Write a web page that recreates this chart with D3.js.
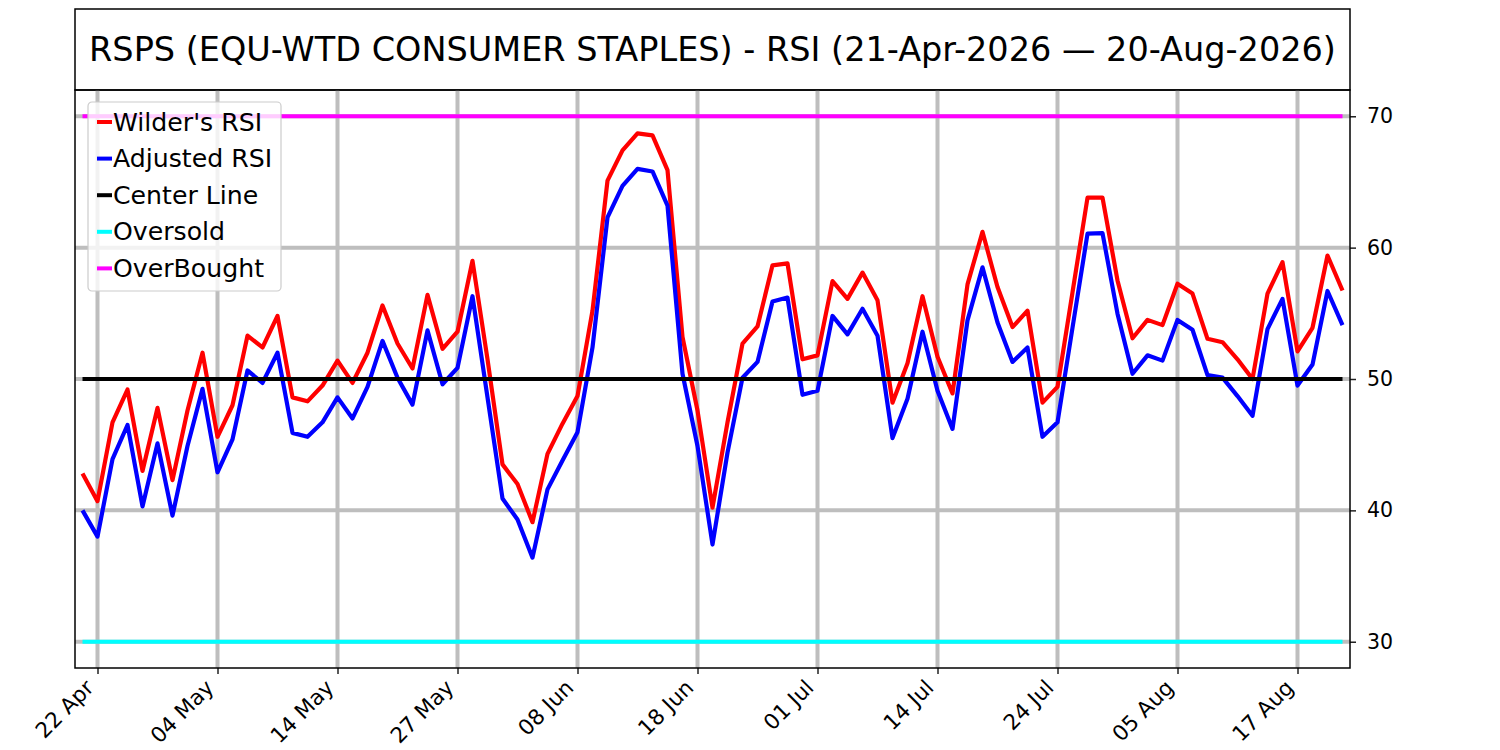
<!DOCTYPE html>
<html>
<head>
<meta charset="utf-8">
<script src="https://cdn.jsdelivr.net/npm/d3@7"></script>
<style>
  body { margin: 0; background: #fff; }
  svg { display: block; font-family: "DejaVu Sans", sans-serif; }
</style>
</head>
<body>
<div id="chart"></div>
<script>
// trading days shown on the x axis (plotted by index, not by calendar)
const dates = [
  "2026-04-21","2026-04-22","2026-04-23","2026-04-24","2026-04-27","2026-04-28","2026-04-29","2026-04-30",
  "2026-05-01","2026-05-04","2026-05-05","2026-05-06","2026-05-07","2026-05-08","2026-05-11","2026-05-12",
  "2026-05-13","2026-05-14","2026-05-15","2026-05-18","2026-05-19","2026-05-20","2026-05-21","2026-05-22",
  "2026-05-26","2026-05-27","2026-05-28","2026-05-29","2026-06-01","2026-06-02","2026-06-03","2026-06-04",
  "2026-06-05","2026-06-08","2026-06-09","2026-06-10","2026-06-11","2026-06-12","2026-06-15","2026-06-16",
  "2026-06-17","2026-06-18","2026-06-22","2026-06-23","2026-06-24","2026-06-25","2026-06-26","2026-06-29",
  "2026-06-30","2026-07-01","2026-07-02","2026-07-06","2026-07-07","2026-07-08","2026-07-09","2026-07-10",
  "2026-07-13","2026-07-14","2026-07-15","2026-07-16","2026-07-17","2026-07-20","2026-07-21","2026-07-22",
  "2026-07-23","2026-07-24","2026-07-27","2026-07-28","2026-07-29","2026-07-30","2026-07-31","2026-08-03",
  "2026-08-04","2026-08-05","2026-08-06","2026-08-07","2026-08-10","2026-08-11","2026-08-12","2026-08-13",
  "2026-08-14","2026-08-17","2026-08-18","2026-08-19","2026-08-20"
];

const wildersRSI = [
  42.8, 40.7, 46.7, 49.2, 43.0, 47.8, 42.3, 47.6, 52.0, 45.6,
  48.0, 53.3, 52.4, 54.8, 48.6, 48.3, 49.5, 51.4, 49.7, 52.0,
  55.6, 52.7, 50.8, 56.4, 52.3, 53.6, 59.0, 51.5, 43.5, 42.0,
  39.1, 44.3, 46.6, 48.7, 55.2, 65.1, 67.4, 68.7, 68.55, 65.9,
  53.2, 47.6, 40.2, 46.7, 52.7, 54.0, 58.65, 58.8, 51.5, 51.8,
  57.45, 56.1, 58.1, 56.0, 48.2, 51.2, 56.3, 51.7, 48.9, 57.2,
  61.2, 57.0, 53.95, 55.2, 48.2, 49.4, 56.6, 63.8, 63.8, 57.5,
  53.1, 54.5, 54.1, 57.25, 56.5, 53.06, 52.8, 51.5, 50.0, 56.5,
  58.9, 52.1, 53.9, 59.4, 56.74
];

const adjustedRSI = [
  40.0, 38.0, 43.9, 46.5, 40.3, 45.1, 39.6, 44.9, 49.25, 42.9,
  45.4, 50.65, 49.7, 52.0, 45.9, 45.6, 46.7, 48.6, 47.0, 49.4,
  52.9, 50.1, 48.05, 53.7, 49.6, 50.85, 56.3, 48.6, 40.9, 39.3,
  36.4, 41.6, 43.8, 45.95, 52.4, 62.3, 64.7, 66.0, 65.8, 63.2,
  50.4, 44.9, 37.4, 44.4, 50.1, 51.3, 55.9, 56.2, 48.8, 49.1,
  54.8, 53.4, 55.35, 53.3, 45.5, 48.5, 53.6, 49.1, 46.2, 54.46,
  58.5, 54.3, 51.3, 52.4, 45.6, 46.7, 53.9, 61.06, 61.1, 54.97,
  50.4, 51.8, 51.4, 54.5, 53.75, 50.3, 50.1, 48.7, 47.2, 53.8,
  56.1, 49.5, 51.1, 56.7, 54.1
];

const centerLevel = 50;
const oversoldLevel = 30;
const overboughtLevel = 70;

const yTicks = [30, 40, 50, 60, 70];
const tickStep = 8;     // one x label every 8 trading days
const tickStart = 1;

const title = "RSPS (EQU-WTD CONSUMER STAPLES) - RSI (21-Apr-2026 \u2014 20-Aug-2026)";

const series = [
  { name: "Wilder's RSI", color: "red" },
  { name: "Adjusted RSI", color: "blue" },
  { name: "Center Line", color: "black" },
  { name: "Oversold", color: "cyan" },
  { name: "OverBought", color: "magenta" }
];

const W = 1500, H = 750;
const m = { left: 75, right: 1350, top: 90, bottom: 668 };

const svg = d3.select("#chart").append("svg")
  .attr("width", W).attr("height", H);

const x = d3.scaleLinear().domain([-0.5, dates.length - 0.5]).range([m.left, m.right]);
const y = d3.scaleLinear().domain([28, 72]).range([m.bottom, m.top]);

const parse = d3.timeParse("%Y-%m-%d");
const fmt = d3.timeFormat("%d %b");
const tickIdx = d3.range(tickStart, dates.length, tickStep);

// title box
svg.append("rect")
  .attr("x", m.left).attr("y", 9)
  .attr("width", m.right - m.left).attr("height", m.top - 9)
  .attr("fill", "none").attr("stroke", "black").attr("stroke-width", 1.5);
svg.append("text")
  .attr("x", (m.left + m.right) / 2).attr("y", 61)
  .attr("text-anchor", "middle")
  .attr("font-size", 33.5).text(title);

// grid
const grid = svg.append("g").attr("stroke", "#bebebe").attr("stroke-width", 4);
grid.selectAll(".vg").data(tickIdx).join("line")
  .attr("x1", d => x(d)).attr("x2", d => x(d))
  .attr("y1", m.top).attr("y2", m.bottom);
grid.selectAll(".hg").data(yTicks).join("line")
  .attr("x1", m.left).attr("x2", m.right)
  .attr("y1", d => y(d)).attr("y2", d => y(d));

// lines
const line = d3.line().x((d, i) => x(i)).y(d => y(d));
const flat = v => dates.map(() => v);

const plotted = [wildersRSI, adjustedRSI, flat(centerLevel), flat(oversoldLevel), flat(overboughtLevel)];
plotted.forEach((vals, k) => {
  svg.append("path")
    .datum(vals)
    .attr("d", line)
    .attr("fill", "none")
    .attr("stroke", series[k].color)
    .attr("stroke-width", 4.2)
    .attr("stroke-linejoin", "round");
});

// axes
const xAxis = d3.axisBottom(x)
  .tickValues(tickIdx)
  .tickFormat(i => fmt(parse(dates[i])))
  .tickSize(6).tickPadding(4);
const gx = svg.append("g").attr("transform", `translate(0,${m.bottom})`).call(xAxis);
gx.attr("font-size", 21.5).attr("font-family", "DejaVu Sans");
gx.select(".domain").remove();
gx.selectAll("line").attr("stroke", "#222").attr("stroke-width", 1.5);
gx.selectAll("text")
  .attr("fill", "black")
  .attr("text-anchor", "end")
  .attr("x", 0).attr("y", 0).attr("dy", null)
  .attr("transform", "translate(-3,21) rotate(-45)");

const yAxis = d3.axisRight(y).tickValues(yTicks).tickSize(6).tickPadding(11);
const gy = svg.append("g").attr("transform", `translate(${m.right},0)`).call(yAxis);
gy.attr("font-size", 20.5).attr("font-family", "DejaVu Sans");
gy.select(".domain").remove();
gy.selectAll("line").attr("stroke", "#222").attr("stroke-width", 1.5);
gy.selectAll("text").attr("fill", "black");

// frame
svg.append("rect")
  .attr("x", m.left).attr("y", m.top)
  .attr("width", m.right - m.left).attr("height", m.bottom - m.top)
  .attr("fill", "none").attr("stroke", "black").attr("stroke-width", 1.5);

// legend
const lg = svg.append("g").attr("transform", "translate(88,102)");
lg.append("rect")
  .attr("width", 193).attr("height", 189).attr("rx", 4)
  .attr("fill", "white").attr("fill-opacity", 0.8)
  .attr("stroke", "#cccccc").attr("stroke-width", 1.2);
series.forEach((s, k) => {
  const cy = 20 + k * 36.6;
  lg.append("line")
    .attr("x1", 9).attr("x2", 24)
    .attr("y1", cy).attr("y2", cy)
    .attr("stroke", s.color).attr("stroke-width", 4);
  lg.append("text")
    .attr("x", 25).attr("y", cy)
    .attr("dominant-baseline", "central")
    .attr("font-size", 25.2)
    .text(s.name);
});
</script>
</body>
</html>
